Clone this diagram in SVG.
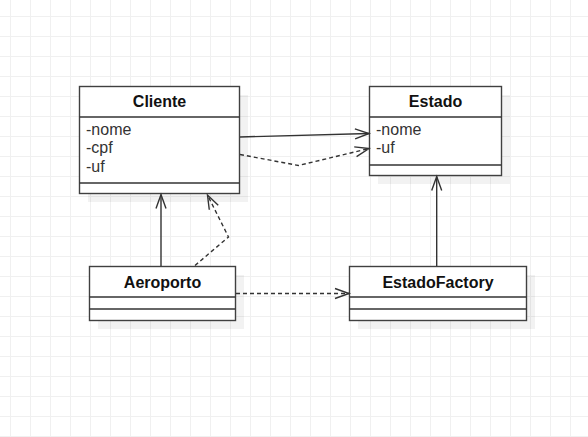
<svg xmlns="http://www.w3.org/2000/svg" width="588" height="437" viewBox="0 0 588 437">
<defs>
<pattern id="grid" patternUnits="userSpaceOnUse" x="10" y="16" width="20" height="20">
<path d="M0 0.5 H20 M0.5 0 V20" stroke="#f0f0f0" stroke-width="1" fill="none"/>
</pattern>
<marker id="open" markerUnits="userSpaceOnUse" markerWidth="16" markerHeight="12" refX="14" refY="5.5" orient="auto" overflow="visible">
<path d="M0,0.5 L14,5.5 L0,10.5" fill="none" stroke="#333" stroke-width="1.4"/>
</marker>
<style>
.box{fill:#fff;stroke:#404040;stroke-width:1.4}
.shadow{fill:#000;opacity:0.05}
.sep{stroke:#333;stroke-width:1.3}
.title{font-family:"Liberation Sans",Arial,sans-serif;font-size:16px;font-weight:bold;fill:#111;text-anchor:middle}
.attr{font-family:"Liberation Sans",Arial,sans-serif;font-size:16px;fill:#333}
.edge{fill:none;stroke:#333;stroke-width:1.4;marker-end:url(#open)}
.dash{stroke-dasharray:4 3}
</style>
</defs>
<rect x="0" y="0" width="588" height="437" fill="#fff"/>
<rect x="0" y="0" width="588" height="437" fill="url(#grid)"/>

<g id="node-cliente">
<rect class="shadow" x="88" y="95" width="160" height="107"/>
<rect class="box" x="79.5" y="86.5" width="160" height="107"/>
<line class="sep" x1="79.5" y1="117" x2="239.5" y2="117"/>
<line class="sep" x1="79.5" y1="183" x2="239.5" y2="183"/>
<text class="title" x="159.5" y="107">Cliente</text>
<text class="attr" x="86" y="134.5">-nome</text>
<text class="attr" x="86" y="153">-cpf</text>
<text class="attr" x="86" y="171.5">-uf</text>
</g>

<g id="node-estado">
<rect class="shadow" x="378" y="95" width="132" height="89"/>
<rect class="box" x="369.5" y="86.5" width="132" height="89"/>
<line class="sep" x1="369.5" y1="117" x2="501.5" y2="117"/>
<line class="sep" x1="369.5" y1="165" x2="501.5" y2="165"/>
<text class="title" x="435.5" y="107">Estado</text>
<text class="attr" x="376" y="134.5">-nome</text>
<text class="attr" x="376" y="153">-uf</text>
</g>

<g id="node-aeroporto">
<rect class="shadow" x="98" y="275" width="146" height="54"/>
<rect class="box" x="89.5" y="266.5" width="146" height="54"/>
<line class="sep" x1="89.5" y1="297" x2="235.5" y2="297"/>
<line class="sep" x1="89.5" y1="309" x2="235.5" y2="309"/>
<text class="title" x="162.5" y="287.5">Aeroporto</text>
</g>

<g id="node-estadofactory">
<rect class="shadow" x="358" y="275" width="177" height="54"/>
<rect class="box" x="349.5" y="266.5" width="177" height="54"/>
<line class="sep" x1="349.5" y1="297" x2="526.5" y2="297"/>
<line class="sep" x1="349.5" y1="309" x2="526.5" y2="309"/>
<text class="title" x="438" y="287.5">EstadoFactory</text>
</g>

<g id="connectors">
<path class="edge" d="M240,137 L369,133.5"/>
<path class="edge dash" d="M240,154.5 L298.5,165.5 L369,148.5"/>
<path class="edge" d="M161,266 L161,194.5"/>
<path class="edge dash" d="M195,265.5 L228.5,237 L207.5,195"/>
<path class="edge" d="M436.7,266 L436.7,176.5"/>
<path class="edge dash" d="M236,293.5 L349,293.5"/>
</g>
</svg>
